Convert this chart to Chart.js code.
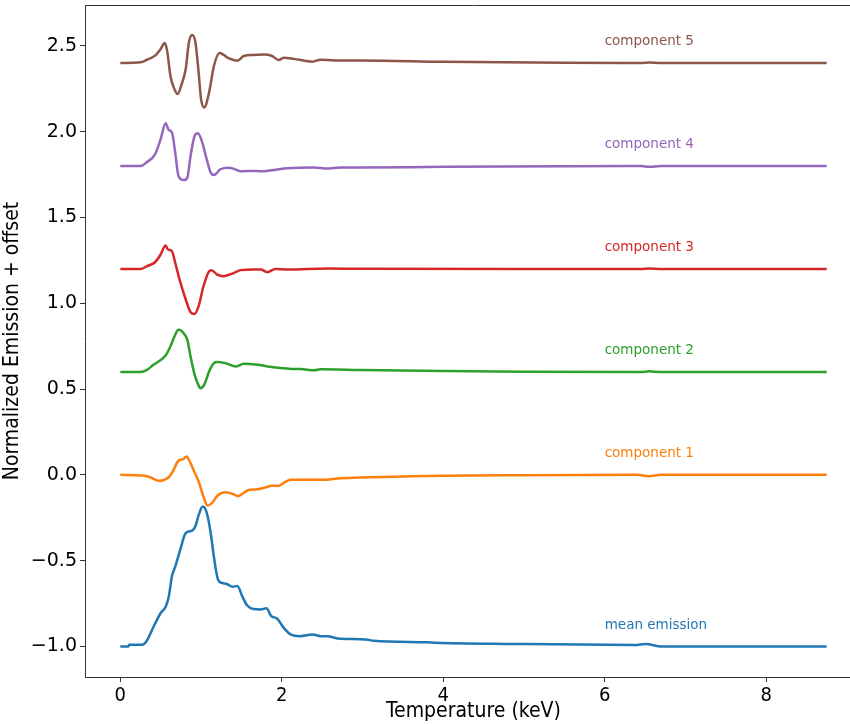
<!DOCTYPE html>
<html><head><meta charset="utf-8">
<style>html,body{margin:0;padding:0;overflow:hidden;background:#fff;width:850px;height:724px}canvas{display:block}</style>
<script src="https://cdn.jsdelivr.net/npm/chart.js@4"></script>
</head>
<body><canvas id="c" width="862" height="724"></canvas>
<script>
// ---- data (values as plotted, offsets included) ----
const meanX = [0,0.10,0.11,0.27,0.33,0.41,0.50,0.56,0.60,0.64,0.68,0.74,0.81,0.89,0.93,0.97,1.02,1.07,1.12,1.16,1.21,1.26,1.32,1.39,1.45,1.51,1.57,1.65,1.74,1.81,1.87,1.94,2.03,2.11,2.23,2.38,2.48,2.56,2.69,3.04,3.14,3.80,3.90,4.80,6.37,6.51,6.70,8.75];
const meanY = [-1.0,-1.0,-0.99,-0.99,-0.965,-0.887,-0.805,-0.77,-0.71,-0.59,-0.535,-0.44,-0.34,-0.325,-0.30,-0.235,-0.185,-0.22,-0.34,-0.48,-0.61,-0.63,-0.636,-0.652,-0.648,-0.707,-0.76,-0.782,-0.784,-0.778,-0.823,-0.837,-0.895,-0.93,-0.94,-0.93,-0.94,-0.94,-0.953,-0.959,-0.967,-0.976,-0.978,-0.985,-0.992,-0.985,-1.0,-1.0];

const comp1X = [0,0.29,0.37,0.48,0.54,0.60,0.65,0.72,0.78,0.82,0.86,0.91,0.97,1.03,1.08,1.14,1.20,1.30,1.39,1.46,1.51,1.59,1.70,1.78,1.88,1.96,2.03,2.11,2.32,2.56,2.69,2.98,3.5,4.0,5.0,6.4,6.55,6.7,8.75];
const comp1Y = [0,-0.004,-0.014,-0.035,-0.03,-0.014,0.02,0.082,0.092,0.107,0.078,0.025,-0.039,-0.127,-0.179,-0.162,-0.123,-0.101,-0.111,-0.123,-0.111,-0.088,-0.084,-0.076,-0.064,-0.064,-0.045,-0.029,-0.029,-0.029,-0.021,-0.016,-0.01,-0.005,-0.002,0,-0.008,0,0];

const comp2X = [0,0.25,0.33,0.41,0.56,0.62,0.67,0.72,0.79,0.83,0.87,0.92,0.97,0.99,1.04,1.10,1.16,1.20,1.30,1.43,1.53,1.70,1.82,1.99,2.13,2.23,2.40,2.48,2.98,4.0,5.0,6.45,6.55,6.7,8.75];
const comp2Y = [0.6,0.6,0.612,0.641,0.695,0.748,0.806,0.845,0.822,0.787,0.69,0.584,0.52,0.504,0.526,0.603,0.651,0.657,0.651,0.632,0.648,0.642,0.632,0.623,0.617,0.617,0.609,0.615,0.611,0.605,0.601,0.6,0.603,0.6,0.6];

const comp3X = [0,0.25,0.33,0.43,0.50,0.56,0.59,0.64,0.68,0.74,0.81,0.87,0.92,0.97,1.03,1.10,1.13,1.20,1.28,1.41,1.49,1.65,1.74,1.82,1.92,2.07,2.56,2.98,6.45,6.55,6.7,8.75];
const comp3Y = [1.2,1.2,1.216,1.239,1.284,1.336,1.313,1.303,1.236,1.128,1.022,0.948,0.938,0.983,1.099,1.187,1.193,1.167,1.158,1.177,1.193,1.196,1.196,1.181,1.2,1.196,1.202,1.201,1.2,1.203,1.2,1.2];

const comp4X = [0,0.25,0.33,0.43,0.50,0.56,0.60,0.64,0.68,0.72,0.79,0.83,0.87,0.92,0.96,1.01,1.07,1.12,1.16,1.24,1.34,1.39,1.49,1.65,1.74,1.90,2.07,2.40,2.56,2.73,2.98,4.0,5.5,6.45,6.55,6.7,8.75];
const comp4Y = [1.8,1.8,1.823,1.868,1.956,2.049,2.01,1.995,1.878,1.742,1.718,1.732,1.858,1.975,1.99,1.945,1.839,1.761,1.747,1.781,1.79,1.786,1.769,1.771,1.769,1.777,1.787,1.791,1.785,1.791,1.791,1.795,1.799,1.8,1.795,1.8,1.8];

const comp5X = [0,0.25,0.33,0.43,0.50,0.55,0.58,0.62,0.67,0.71,0.76,0.81,0.85,0.89,0.93,0.97,1.00,1.04,1.10,1.16,1.23,1.28,1.34,1.45,1.53,1.65,1.78,1.88,1.96,2.03,2.15,2.38,2.48,2.65,2.98,4.0,5.5,6.45,6.55,6.7,8.75];
const comp5Y = [2.4,2.404,2.419,2.443,2.482,2.517,2.472,2.326,2.248,2.219,2.277,2.365,2.521,2.563,2.521,2.346,2.19,2.141,2.229,2.384,2.458,2.447,2.428,2.413,2.441,2.447,2.449,2.441,2.418,2.43,2.424,2.408,2.419,2.415,2.415,2.407,2.401,2.4,2.403,2.4,2.4];

const seriesNames = ['mean emission','component 1','component 2','component 3','component 4','component 5'];
const seriesColors = ['#1f77b4','#ff7f0e','#2ca02c','#d62728','#9467bd','#8c564b'];
const labelX = [6.0,6.0,6.0,6.0,6.0,6.0];
const labelY = [-0.875,0.125,0.725,1.325,1.925,2.525];
const xTicks = [0,2,4,6,8];
const yTicks = [-1.0,-0.5,0.0,0.5,1.0,1.5,2.0,2.5];

const allX = [meanX,comp1X,comp2X,comp3X,comp4X,comp5X];
const allY = [meanY,comp1Y,comp2Y,comp3Y,comp4Y,comp5Y];

const narrow = "'Liberation Sans Narrow','DejaVu Sans Condensed','Roboto',sans-serif";

const datasets = allX.map((xs,i)=>({
  label: seriesNames[i],
  data: xs.map((x,j)=>({x:x,y:allY[i][j]})),
  borderColor: seriesColors[i],
  backgroundColor: seriesColors[i],
  borderWidth: 2.5,
  pointRadius: 0,
  fill: false,
  cubicInterpolationMode: 'monotone'
}));

const topSpine = {
  id:'topSpine',
  afterDraw(chart){
    const a = chart.chartArea, ctx = chart.ctx;
    ctx.save(); ctx.strokeStyle='#333'; ctx.lineWidth=1;
    ctx.beginPath(); ctx.moveTo(a.left, a.top+0.5); ctx.lineTo(a.right, a.top+0.5); ctx.stroke();
    ctx.restore();
  }
};
const seriesLabels = {
  id:'seriesLabels',
  afterDatasetsDraw(chart){
    const ctx = chart.ctx, xs = chart.scales.x, ys = chart.scales.y;
    ctx.save();
    ctx.font = "13.5px 'DejaVu Sans'";
    ctx.textAlign='left'; ctx.textBaseline='middle';
    seriesNames.forEach((n,i)=>{
      ctx.fillStyle = seriesColors[i];
      ctx.fillText(n, xs.getPixelForValue(labelX[i]), ys.getPixelForValue(labelY[i]));
    });
    ctx.restore();
  }
};

new Chart(document.getElementById('c'), {
  type:'line',
  data:{datasets},
  plugins:[topSpine, seriesLabels],
  options:{
    responsive:false,
    animation:false,
    devicePixelRatio:1,
    layout:{padding:{top:5,right:0,left:0,bottom:0}},
    plugins:{legend:{display:false},tooltip:{enabled:false}},
    scales:{
      x:{
        type:'linear', min:-0.4375, max:9.1875,
        afterBuildTicks(s){ s.ticks = xTicks.map(v=>({value:v})); },
        afterFit(s){ s.height = 47; s.paddingLeft = 0; s.paddingRight = 0; },
        ticks:{color:'#000', font:{family:narrow,size:20}, padding:2, callback:v=>String(v)},
        grid:{drawOnChartArea:false, tickLength:5, color:'#333'},
        border:{color:'#333', width:1},
        title:{display:true, text:'Temperature (keV)', color:'#000', font:{family:narrow,size:21}, padding:{top:0,bottom:0}}
      },
      y:{
        type:'linear', min:-1.178, max:2.738,
        afterBuildTicks(s){ s.ticks = yTicks.map(v=>({value:v})); },
        afterFit(s){ s.width = 85; s.paddingTop = 0; s.paddingBottom = 0; },
        ticks:{color:'#000', font:{family:"'DejaVu Sans'",size:19}, padding:3, callback:v=>v.toFixed(1).replace('-','\u2212')},
        grid:{drawOnChartArea:false, tickLength:5, color:'#333'},
        border:{color:'#333', width:1},
        title:{display:true, text:'Normalized Emission + offset', color:'#000', font:{family:narrow,size:21}, padding:{top:0,bottom:0}}
      }
    }
  }
});
</script>
</body></html>
